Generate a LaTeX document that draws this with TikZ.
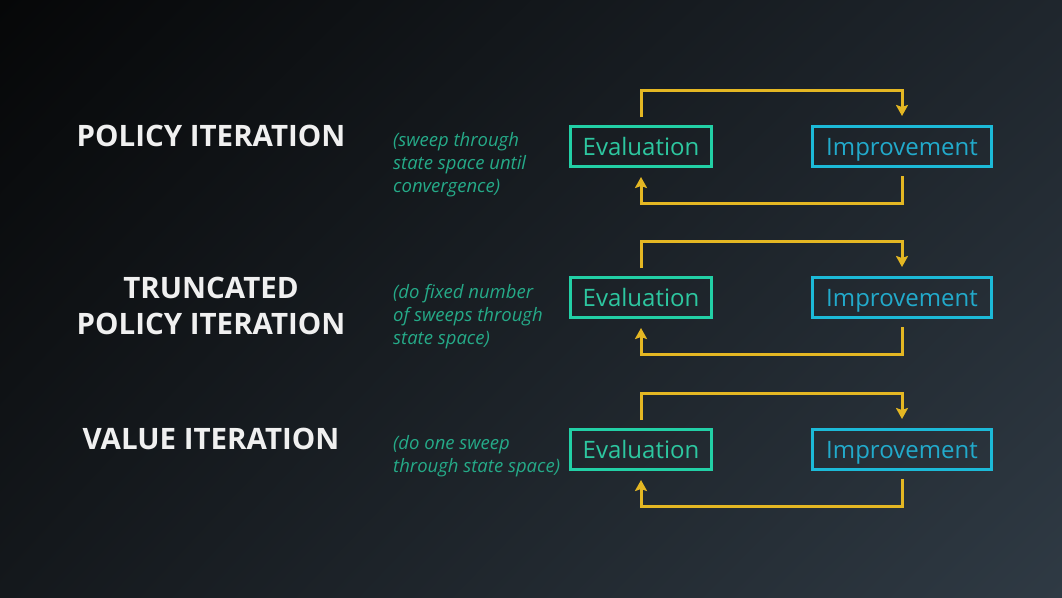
\documentclass[tikz,border=0pt]{standalone}
\usepackage{fontspec}
\setmainfont{Open Sans}
\usetikzlibrary{arrows.meta,positioning,shadings}
\definecolor{bgtl}{HTML}{060708}
\definecolor{bgtr}{HTML}{1F262D}
\definecolor{bgbl}{HTML}{14181C}
\definecolor{bgbr}{HTML}{2F3A44}
\definecolor{evalline}{HTML}{22D0A6}
\definecolor{evaltext}{HTML}{2DC7A0}
\definecolor{imprline}{HTML}{1CBAD8}
\definecolor{imprtext}{HTML}{22AACB}
\definecolor{notetext}{HTML}{25AA88}
\definecolor{loopline}{HTML}{E4B723}
\tikzset{
  ttl/.style={font=\fontsize{29.5}{36}\selectfont\bfseries,text=white!94!black,align=center},
  note/.style={font=\fontsize{18.5}{23}\selectfont\itshape,text=notetext,align=left,anchor=west,inner sep=0pt},
  ebox/.style={draw=evalline,line width=3pt,text=evaltext,minimum width=141pt,minimum height=40pt,
    font=\fontsize{24}{28}\selectfont,inner sep=0pt,text height=18pt,text depth=0pt},
  ibox/.style={draw=imprline,line width=3pt,text=imprtext,minimum width=179pt,minimum height=40pt,
    font=\fontsize{24}{28}\selectfont,inner sep=0pt,text height=18pt,text depth=0pt},
  larr/.style={-{Stealth[width=12pt,length=11pt,inset=2pt]},line width=3pt,draw=loopline,
    shorten <=8pt,shorten >=9pt}
}
\begin{document}
\begin{tikzpicture}[x=1pt,y=-1pt]
  \useasboundingbox (0,0) rectangle (1062,597);
  \shade[upper left=bgtl,upper right=bgtr,lower left=bgbl,lower right=bgbr] (0,0) rectangle (1062,597);
  % policy iteration
  \node[ttl] (pol) at (211,136) {POLICY ITERATION};
  \node[note] (polnote) at (393,165) {(sweep through\\state space until\\convergence)};
  \node[ebox] (eval1) at (641,146.5) {Evaluation};
  \node[ibox] (impr1) at (902,146.5) {Improvement};
  \draw[larr] (eval1.north) -- ++(0,-35) -| (impr1.north);
  \draw[larr] (impr1.south) -- ++(0,35) -| (eval1.south);
  % truncated policy iteration
  \node[ttl] (trunc) at (211,306) {TRUNCATED\\POLICY ITERATION};
  \node[note] (truncnote) at (393,317) {(do fixed number\\of sweeps through\\state space)};
  \node[ebox] (eval2) at (641,297.5) {Evaluation};
  \node[ibox] (impr2) at (902,297.5) {Improvement};
  \draw[larr] (eval2.north) -- ++(0,-35) -| (impr2.north);
  \draw[larr] (impr2.south) -- ++(0,35) -| (eval2.south);
  % value iteration
  \node[ttl] (val) at (211,439) {VALUE ITERATION};
  \node[note] (valnote) at (393,456.5) {(do one sweep\\through state space)};
  \node[ebox] (eval3) at (641,449.5) {Evaluation};
  \node[ibox] (impr3) at (902,449.5) {Improvement};
  \draw[larr] (eval3.north) -- ++(0,-35) -| (impr3.north);
  \draw[larr] (impr3.south) -- ++(0,35) -| (eval3.south);
\end{tikzpicture}
\end{document}
